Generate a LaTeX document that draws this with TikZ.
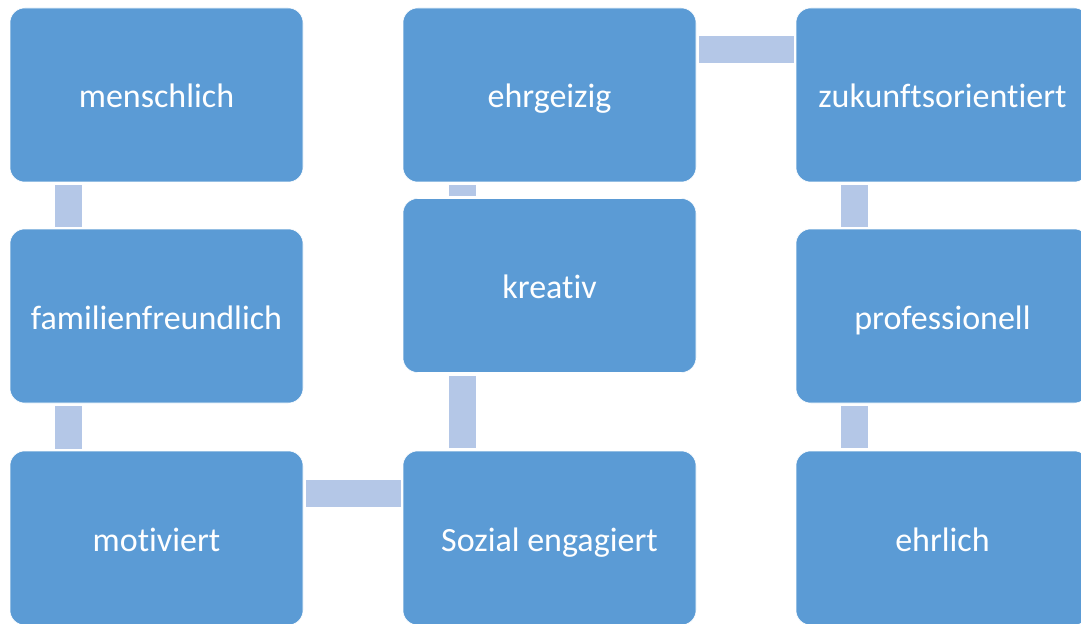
\documentclass[tikz,border=0pt]{standalone}
\usepackage{fontspec}
\setmainfont{Carlito}[RawFeature=-liga]
\definecolor{boxblue}{HTML}{5B9BD5}
\definecolor{linkblue}{HTML}{B4C7E7}
\tikzset{
  trait/.style={fill=boxblue, draw=white, line width=0.4pt, rounded corners=11pt,
    minimum width=219.75pt, minimum height=130.5pt, inner sep=0pt,
    text height=23pt, text depth=3.5pt,
    text=white, font=\fontsize{25.5}{30}\selectfont},
  link/.style={draw=linkblue, line width=20pt, line cap=butt}
}
\begin{document}
\begin{tikzpicture}[x=0.75pt,y=-0.75pt]
\useasboundingbox (0,0) rectangle (1081,624);
\clip (0,0) rectangle (1081,624);
\node[trait] (mensch)  at (156.5,95)   {menschlich};
\node[trait] (familie) at (156.5,316)  {familienfreundlich};
\node[trait] (motiv)   at (156.5,538)  {motiviert};
\node[trait] (ehrgeiz) at (549.5,95)   {ehrgeizig};
\node[trait] (kreativ) at (549.5,285.5){kreativ};
\node[trait] (sozial)  at (549.5,538)  {Sozial engagiert};
\node[trait] (zukunft) at (942.5,95)   {zukunftsorientiert};
\node[trait] (profi)   at (942.5,316)  {professionell};
\node[trait] (ehrlich) at (942.5,538)  {ehrlich};
\draw[link] ([xshift=43.9pt,yshift=-2.2pt]mensch.south west) -- ([xshift=43.9pt,yshift=1.5pt]familie.north west);
\draw[link] ([xshift=43.9pt,yshift=-2.2pt]familie.south west) -- ([xshift=43.9pt,yshift=1.5pt]motiv.north west);
\draw[link] ([xshift=2.2pt,yshift=-31.9pt]motiv.north east) -- ([xshift=-1.5pt,yshift=-31.9pt]sozial.north west);
\draw[link] ([xshift=44.6pt,yshift=1.9pt]sozial.north west) -- ([xshift=44.6pt,yshift=-2.2pt]kreativ.south west);
\draw[link] ([xshift=44.6pt,yshift=1.5pt]kreativ.north west) -- ([xshift=44.6pt,yshift=-2.2pt]ehrgeiz.south west);
\draw[link] ([xshift=2.2pt,yshift=-31.5pt]ehrgeiz.north east) -- ([xshift=-1.5pt,yshift=-31.5pt]zukunft.north west);
\draw[link] ([xshift=44.3pt,yshift=-2.2pt]zukunft.south west) -- ([xshift=44.3pt,yshift=1.5pt]profi.north west);
\draw[link] ([xshift=44.3pt,yshift=-2.2pt]profi.south west) -- ([xshift=44.3pt,yshift=1.9pt]ehrlich.north west);
\end{tikzpicture}
\end{document}
